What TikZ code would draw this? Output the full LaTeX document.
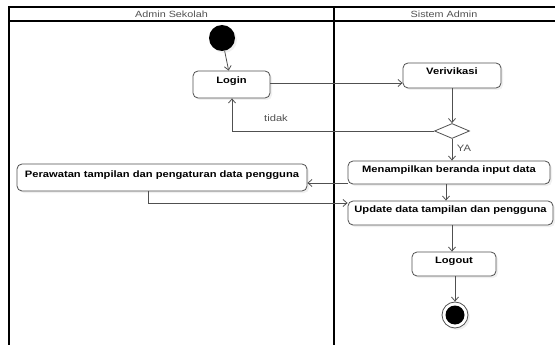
\documentclass[tikz,border=0pt]{standalone}
\usepackage{fontspec}
\setmainfont{Liberation Sans}[FakeStretch=1.2]
\usetikzlibrary{arrows.meta,shapes.geometric,shadows}
\definecolor{lineg}{HTML}{505050}
\definecolor{headg}{HTML}{505050}
\tikzset{
  act/.style={draw=lineg, line width=0.8pt, rounded corners=5pt, fill=white,
    font=\fontsize{9.3}{10}\selectfont\bfseries, inner sep=0pt,
    text height=7pt, text depth=8pt,
    drop shadow={opacity=0.12, shadow xshift=2pt, shadow yshift=-2pt}},
  flow/.style={draw=lineg, line width=0.8pt, -{Straight Barb[length=4pt,width=7pt]}},
  lane/.style={draw=black, line width=1.4pt},
  headtxt/.style={font=\fontsize{9}{10}\selectfont, text=headg},
  lbl/.style={font=\fontsize{9.3}{10}\selectfont, text=headg, inner sep=0pt}
}
\begin{document}
\begin{tikzpicture}[x=1pt,y=-1pt]
\useasboundingbox (0,0) rectangle (555,345);
% swimlanes
\draw[lane] (9,345) -- (9,7) -- (556,7);
\draw[lane] (9,21) -- (556,21);
\draw[lane] (334,7) -- (334,345);
\node[headtxt] (h1) at (171.5,14) {Admin Sekolah};
\node[headtxt] (h2) at (444,14) {Sistem Admin};
% nodes
\node[circle, fill=black, minimum size=26pt, inner sep=0pt,
      drop shadow={opacity=0.12, shadow xshift=2pt, shadow yshift=-2pt}] (start) at (222,38) {};
\node[act, minimum width=77pt, minimum height=27pt] (login) at (231.5,84.5) {Login};
\node[act, minimum width=98pt, minimum height=25pt] (ver) at (452,75.5) {Verivikasi};
\node[diamond, draw=lineg, line width=0.8pt, fill=white, minimum width=35pt, minimum height=15pt, inner sep=0pt] (dec) at (452,131) {};
\node[act, minimum width=202pt, minimum height=23pt] (men) at (449,172.5) {Menampilkan beranda input data};
\node[act, minimum width=290pt, minimum height=27pt] (per) at (162,177.5) {Perawatan tampilan dan pengaturan data pengguna};
\node[act, minimum width=205pt, minimum height=24pt] (upd) at (450.5,213) {Update data tampilan dan pengguna};
\node[act, minimum width=84pt, minimum height=24pt] (logout) at (454,264) {Logout};
\node[circle, draw=lineg, line width=0.8pt, fill=white, minimum size=26pt, inner sep=0pt,
      drop shadow={opacity=0.12, shadow xshift=2pt, shadow yshift=-2pt}] (endo) at (455,315) {};
\node[circle, fill=black, minimum size=19pt, inner sep=0pt] (endi) at (endo.center) {};
% connectors
\coordinate (tk) at (232,131);
\coordinate (pb) at (148,203);
\draw[flow] (start) -- (login);
\draw[flow] (login.east |- 0,83) -- (ver.west |- 0,83);
\draw[flow] (ver.south -| dec.north) -- (dec.north);
\draw[flow] (dec.west) -- (tk) -- (login.south -| tk);
\draw[flow] (dec.south) -- (men.north -| dec.south);
\draw[flow] (men.west |- 0,183) -- (per.east |- 0,183);
\draw[flow] (men.south -| 446,0) -- (upd.north -| 446,0);
\draw[flow] (per.south -| pb) -- (pb) -- (upd.west |- pb);
\draw[flow] (upd.south -| 452,0) -- (logout.north -| 452,0);
\draw[flow] (logout.south -| endo.north) -- (endo.north);
\node[lbl] (tidak) at (276,118) {tidak};
\node[lbl] (ya) at (464,148) {YA};
\end{tikzpicture}
\end{document}
